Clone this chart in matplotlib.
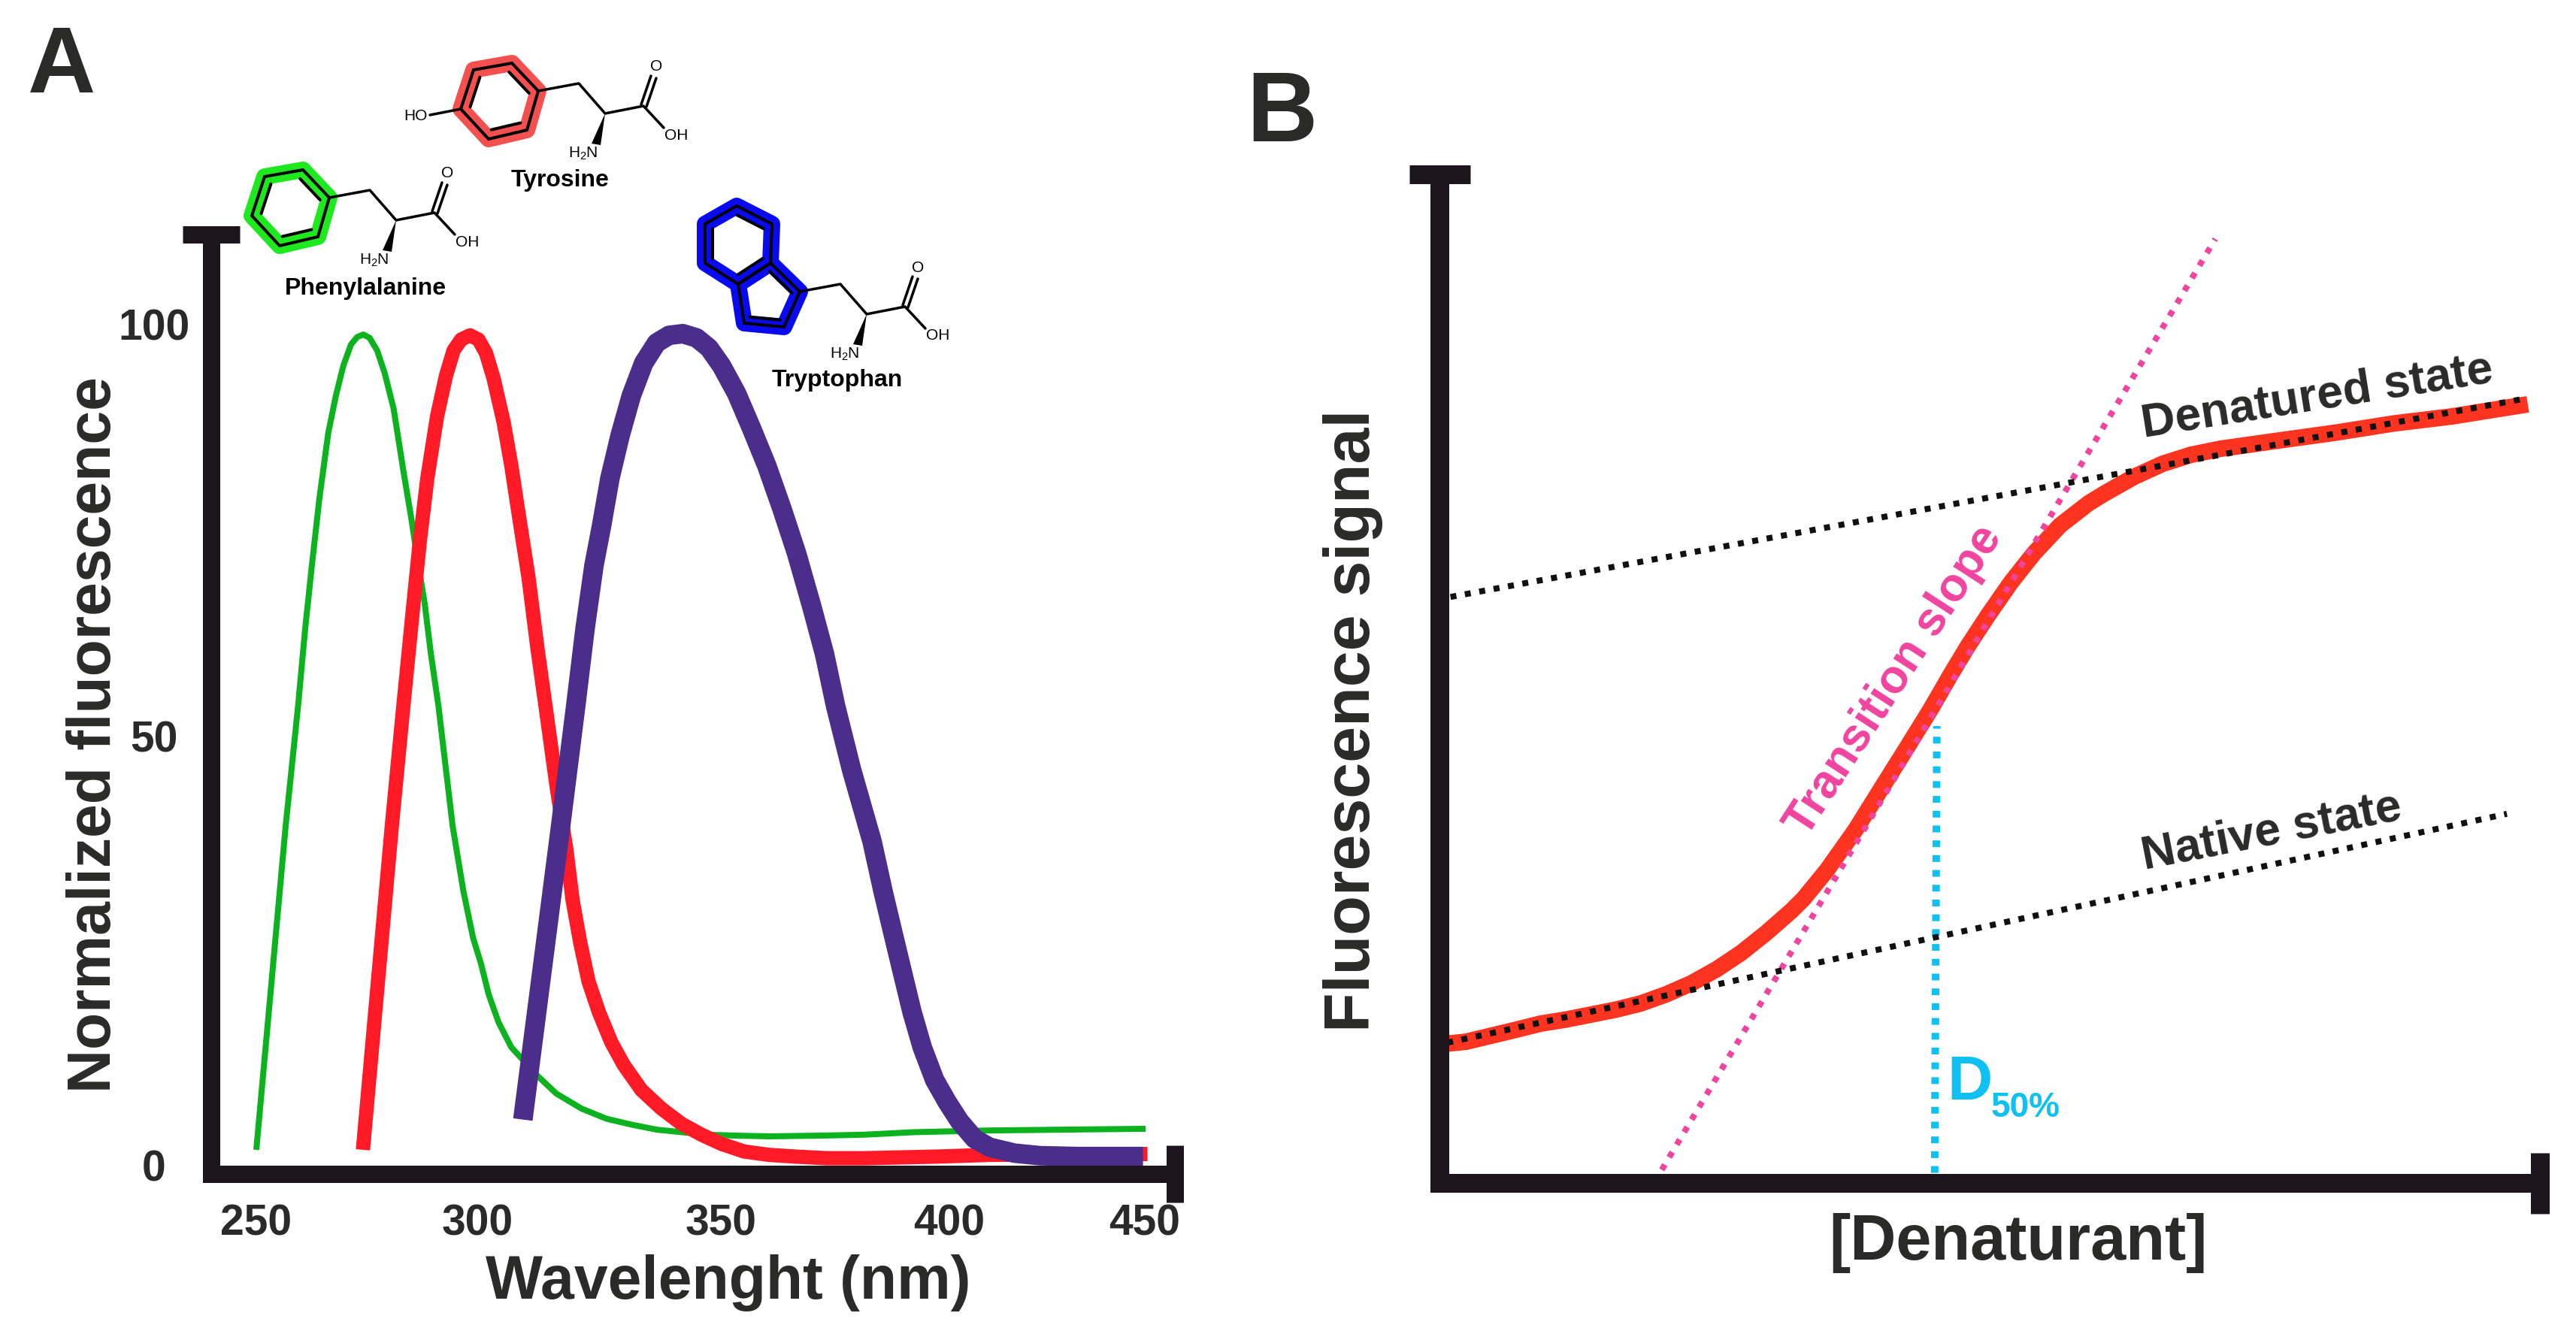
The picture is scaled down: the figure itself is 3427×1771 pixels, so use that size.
import matplotlib
matplotlib.use("Agg")
import matplotlib.pyplot as plt
from matplotlib.lines import Line2D
from matplotlib.patches import Polygon
from matplotlib.transforms import Affine2D

W, H = 3427, 1771
DPI = 100
FONT = "Liberation Sans"
plt.rcParams["font.family"] = [FONT, "DejaVu Sans"]
plt.rcParams["mathtext.fontset"] = "custom"
plt.rcParams["mathtext.rm"] = FONT
plt.rcParams["mathtext.default"] = "rm"

# panel A, emission spectra (wavelength nm, normalized %)
phe_wl = [250, 256.6, 259.4, 261, 262.5, 264.2, 266.2, 267.9, 269.6, 271.3, 272.7, 274.1, 275.5, 277.2, 278.9,
          280.9, 283.1, 284.8, 286.5, 287.9, 289.3, 291, 294.2, 296.6, 298.8, 300.6, 302.3, 304.5, 307.4, 313.3,
          317.5, 323.2, 328.8, 334.4, 340.1, 345.7, 351.4, 357, 365.4, 378.4, 386.9, 398.2, 415.1, 432, 450.2]
phe_val = [1.8, 40.3, 54.6, 63.8, 71.3, 79.3, 87.1, 91.5, 95.1, 97.6, 98.5, 98.8, 98.4, 96.9, 94.2,
           90, 82.6, 77.2, 71.3, 66.8, 60.8, 54.6, 40.3, 32.6, 27, 23.9, 20.3, 17, 14, 10.6,
           8.5, 6.7, 5.5, 4.8, 4.2, 3.9, 3.6, 3.5, 3.4, 3.5, 3.6, 3.9, 4.1, 4.2, 4.3]
tyr_wl = [274, 280.5, 283.1, 285.1, 286.8, 288.5, 290.7, 292.7, 294.4, 296.1, 298.1, 300, 301.7, 303.4, 305.7,
          307.4, 309.3, 311.3, 313.3, 315.1, 317.6, 319.8, 321.2, 322.9, 324.8, 327.1, 329.9, 332.7, 336.7, 341.2,
          345.7, 350.2, 354.7, 359.8, 365.4, 371.1, 378.4, 386.9, 403.8, 415.1, 450.6]
tyr_val = [1.8, 40.3, 54.6, 65.3, 74.2, 81.7, 89.1, 93.9, 96.9, 98.2, 98.7, 98.2, 96.6, 93.6, 88.3,
           83.2, 76.6, 69.8, 61.4, 54.6, 45, 37.5, 31.5, 26.5, 21.8, 18.2, 14.6, 11.9, 8.9, 6.7,
           4.9, 3.6, 2.5, 1.6, 1.2, 1, 0.8, 0.8, 1, 1.2, 1.3]
trp_wl = [310, 318.5, 321.9, 324, 326, 327.7, 329.6, 331.9, 334.4, 337.2, 340.1, 342.9, 346, 349.1, 351.9,
          354.7, 358.1, 361.5, 364.9, 368.3, 371.6, 375, 377.9, 380.4, 384, 388.6, 391.1, 393.4, 395.4, 397.6,
          399.9, 402.7, 405.5, 408.3, 411.7, 415.1, 420.7, 426.4, 434.8, 449.6]
trp_val = [5.4, 40.3, 54.6, 63.8, 71.3, 76, 81.7, 86.8, 91.5, 95.4, 97.8, 98.7, 98.9, 98.4, 97.2,
           95.1, 91.8, 87.6, 83.2, 78.1, 72.8, 66.5, 60.8, 54.6, 47, 38.5, 32.5, 27.4, 23, 18.2,
           14, 10.1, 7.5, 5.2, 3.1, 2.1, 1.4, 1.1, 1, 1]
x_tick_pos = [250, 299.8, 354.6, 405.9, 450]
x_tick_labels = ["250", "300", "350", "400", "450"]
y_tick_pos = [0, 51, 100]
y_tick_labels = ["0", "50", "100"]

# panel B, unfolding curve in arbitrary units
curve_x = [0.6, 2.4, 4.7, 7, 9.2, 11.5, 13.8, 16.1, 18.3, 20.6, 22.9, 25.2, 27.4, 29.7, 32, 33.1, 35.2,
           37.8, 40.2, 42.5, 44.6, 46.4, 48, 49.8, 51.9, 54, 56.4, 59, 60.5, 63.1, 65.7, 68.3, 71, 76.2,
           81.5, 86.7, 92, 98.9]
curve_y = [13.8, 14, 14.6, 15.2, 15.8, 16.2, 16.7, 17.2, 17.8, 18.7, 19.8, 21.2, 22.8, 24.8, 27, 28.2, 31,
           35, 39.2, 43.2, 46.9, 50.3, 53.2, 56.2, 59.5, 62.4, 65.2, 67.4, 68.4, 70, 71.3, 72.2, 72.8, 73.6,
           74.4, 75.3, 76, 77.2]
denatured_x = [1, 98.3]
denatured_y = [58.1, 77.7]
native_x = [0.7, 97]
native_y = [13.9, 36.6]
slope_x = [20.2, 70.5]
slope_y = [1.3, 93.6]
d50_x = [45, 45.2]
d50_y = [1, 45.3]

BLACK = "#1c161c"
TEXT = "#2a2a28"
PINK = "#f0449e"
CYAN = "#0fc0f2"


def px(v):
    return v * 72 / DPI


fig = plt.figure(figsize=(W / DPI, H / DPI), dpi=DPI)
# top-left pixel coordinates for everything placed by hand
px_tr = Affine2D().scale(1, -1).translate(0, H)


def add_axes_px(x0, x1, y_top, y_bottom):
    ax = fig.add_axes([x0 / W, 1 - y_bottom / H, (x1 - x0) / W, (y_bottom - y_top) / H])
    ax.patch.set_visible(False)
    ax.spines["top"].set_visible(False)
    ax.spines["right"].set_visible(False)
    return ax


def style_frame(ax, width_left, width_bottom, cap_x, cap_y):
    ax.spines["left"].set_linewidth(px(width_left))
    ax.spines["bottom"].set_linewidth(px(width_bottom))
    ax.spines["left"].set_color(BLACK)
    ax.spines["bottom"].set_color(BLACK)
    # end caps of both axes are minor ticks
    ax.set_xticks([ax.get_xlim()[1]], minor=True)
    ax.set_yticks([ax.get_ylim()[1]], minor=True)
    ax.tick_params(axis="x", which="minor", direction="inout", length=px(cap_x), width=px(width_left), color=BLACK)
    ax.tick_params(axis="y", which="minor", direction="inout", length=px(cap_y), width=px(width_bottom), color=BLACK)


def put(s, x, y, size, weight="bold", color=TEXT, rotation=0):
    fig.text(x, y, s, transform=px_tr, fontsize=size, fontweight=weight, color=color, rotation=rotation,
             ha="center", va="center", rotation_mode="anchor")


# panel A
ax_a = add_axes_px(281, 1563, 312, 1562)
ax_a.set_xlim(239.85, 456.77)
ax_a.set_ylim(-1.07, 110.7)
ax_a.plot(phe_wl, phe_val, color="#0db21f", lw=px(8), solid_capstyle="butt")
ax_a.plot(tyr_wl, tyr_val, color="#ff1a26", lw=px(19), solid_capstyle="butt")
ax_a.plot(trp_wl, trp_val, color="#4b2e8c", lw=px(26), solid_capstyle="butt")
ax_a.set_xticks(x_tick_pos, x_tick_labels)
ax_a.set_yticks(y_tick_pos, y_tick_labels)
ax_a.tick_params(axis="both", which="major", length=0, labelsize=41, labelcolor=TEXT)
ax_a.tick_params(axis="x", which="major", pad=px(40))
ax_a.tick_params(axis="y", which="major", pad=px(76))
for lab in ax_a.get_xticklabels() + ax_a.get_yticklabels():
    lab.set_fontweight("bold")
for lab in ax_a.get_yticklabels():
    lab.set_ha("center")
style_frame(ax_a, 23, 23, 76, 76)
ax_a.set_xlabel("Wavelenght (nm)", fontsize=58, fontweight="bold", color=TEXT, va="center")
ax_a.xaxis.set_label_coords(969, 1707, transform=px_tr)
ax_a.set_ylabel("Normalized fluorescence", fontsize=58, fontweight="bold", color=TEXT, va="center")
ax_a.yaxis.set_label_coords(126, 978, transform=px_tr)

# panel B
ax_b = add_axes_px(1915, 3379, 232, 1574)
ax_b.set_xlim(0, 100)
ax_b.set_ylim(0, 100)
ax_b.set_xticks([])
ax_b.set_yticks([])
ax_b.plot(curve_x, curve_y, color="#ff3420", lw=px(22), solid_capstyle="butt")
ax_b.plot(d50_x, d50_y, color=CYAN, lw=px(10), linestyle=(0, (0.9, 1.07)))
ax_b.plot(slope_x, slope_y, color=PINK, lw=px(8), linestyle=(0, (1, 1.43)))
ax_b.plot(denatured_x, denatured_y, color="#111111", lw=px(8), linestyle=(0, (1, 1.43)))
ax_b.plot(native_x, native_y, color="#111111", lw=px(8), linestyle=(0, (1, 1.43)))
style_frame(ax_b, 25, 25, 81, 81)
ax_b.set_xlabel("[Denaturant]", fontsize=61, fontweight="bold", color=TEXT, va="center")
ax_b.xaxis.set_label_coords(2685, 1654, transform=px_tr)
ax_b.set_ylabel("Fluorescence signal", fontsize=62, fontweight="bold", color=TEXT, va="center")
ax_b.yaxis.set_label_coords(1800, 959, transform=px_tr)

put("A", 82, 91, 90)
put("B", 1705, 154, 94)
put("Denatured state", 3083, 528, 45, rotation=9)
put("Native state", 3022, 1107, 45, rotation=11)
put("Transition slope", 2520, 906, 45, color=PINK, rotation=57)
put("D", 2620, 1441, 60, color=CYAN)
put("50%", 2695, 1474, 33, color=CYAN)


# amino acid sketches above panel A
def seg(xs, ys, lw=4):
    fig.add_artist(Line2D(xs, ys, transform=px_tr, color="black", lw=px(lw), solid_capstyle="round"))


def ring(points, color):
    fig.add_artist(Polygon(points, closed=True, fill=False, edgecolor=color, lw=px(22), joinstyle="round", transform=px_tr))


def ring_lines(points, double_edges):
    fig.add_artist(Polygon(points, closed=True, fill=False, edgecolor="black", lw=px(4), joinstyle="miter", transform=px_tr))
    cx = sum(p[0] for p in points) / len(points)
    cy = sum(p[1] for p in points) / len(points)
    n = len(points)
    for i in double_edges:
        a, b = points[i], points[(i + 1) % n]
        a2 = (a[0] + (cx - a[0]) * 0.24, a[1] + (cy - a[1]) * 0.24)
        b2 = (b[0] + (cx - b[0]) * 0.24, b[1] + (cy - b[1]) * 0.24)
        seg([a2[0], b2[0]], [a2[1], b2[1]])


def side_chain(ax0, ay0):
    seg([ax0, ax0 + 54, ax0 + 89, ax0 + 140, ax0 + 167],
        [ay0, ay0 - 10, ay0 + 30, ay0 + 20, ay0 + 49], lw=3.5)
    seg([ax0 + 137, ax0 + 150], [ay0 + 18, ay0 - 20], lw=3.5)
    seg([ax0 + 144, ax0 + 157], [ay0 + 21, ay0 - 17], lw=3.5)
    fig.add_artist(Polygon([(ax0 + 89, ay0 + 30), (ax0 + 71, ay0 + 70), (ax0 + 83, ay0 + 72)], closed=True,
                           facecolor="black", edgecolor="none", transform=px_tr))
    put("O", ax0 + 157, ay0 - 32, 15, weight="normal", color="black")
    put("OH", ax0 + 184, ay0 + 59, 15, weight="normal", color="black")
    put("H$_2$N", ax0 + 60, ay0 + 83, 15, weight="normal", color="black")


tyr_ring = [(681, 84), (716, 121), (701, 173), (650, 185), (613, 145), (630, 93)]
ring(tyr_ring, "#f55050")
ring_lines(tyr_ring, [0, 2, 4])
side_chain(716, 121)
seg([613, 572], [145, 153], lw=3.5)
put("HO", 553, 155, 15, weight="normal", color="black")
put("Tyrosine", 745, 240, 23, color="black")

phe_ring = [(403, 226), (438, 263), (423, 315), (372, 327), (335, 287), (352, 235)]
ring(phe_ring, "#1ee81e")
ring_lines(phe_ring, [0, 2, 4])
side_chain(438, 263)
put("Phenylalanine", 486, 384, 23, color="black")

trp_six = [(980, 274), (1027, 298), (1025, 350), (982, 378), (938, 350), (938, 298)]
trp_five = [(1025, 350), (1064, 388), (1043, 435), (990, 430), (982, 378)]
ring(trp_six, "#0a0af0")
ring(trp_five, "#0a0af0")
ring_lines(trp_six, [0, 2, 4])
ring_lines(trp_five, [0, 2])
side_chain(1064, 388)
put("Tryptophan", 1114, 506, 23, color="black")

fig.savefig("out.png", dpi=DPI)
